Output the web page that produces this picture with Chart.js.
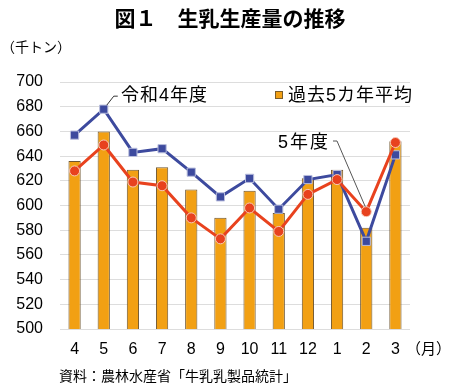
<!DOCTYPE html>
<html>
<head>
<meta charset="utf-8">
<script src="https://cdn.jsdelivr.net/npm/chart.js@4.4.1/dist/chart.umd.min.js"></script>
<style>
  html, body { margin: 0; padding: 0; background: #fff; }
</style>
</head>
<body>
<canvas id="myChart" width="450" height="392"></canvas>
<script>
// months (fiscal year order)
const months = ['4', '5', '6', '7', '8', '9', '10', '11', '12', '1', '2', '3'];
// past 5-year average (thousand tonnes)
const avgPast5 = [636, 660, 629, 631, 613, 590, 612, 594, 622, 629, 582, 652];
// Reiwa 4 fiscal year
const reiwa4 = [657, 678, 643, 646, 627, 607, 622, 597, 621, 625, 571, 641];
// fiscal year 5
const reiwa5 = [628, 649, 619, 616, 590, 573, 598, 579, 609, 621, 595, 651];

const FONT = "'Liberation Sans', 'Noto Sans CJK JP', sans-serif";
const ORANGE = '#F2A013';
const BLUE = '#3D4A9E';
const RED = '#E8421E';

// draws title, unit labels, legend and the two callouts
const textPlugin = {
  id: 'texts',
  afterDraw(chart) {
    const ctx = chart.ctx;
    const xs = chart.scales.x;
    const ys = chart.scales.y;
    ctx.save();
    ctx.fillStyle = '#000';
    ctx.textBaseline = 'middle';

    ctx.textAlign = 'center';
    ctx.font = '600 21px ' + FONT;
    ctx.fillText('図１　生乳生産量の推移', 230, 20);

    ctx.textAlign = 'left';
    ctx.font = '14px ' + FONT;
    ctx.fillText('（千トン）', 1, 48);
    ctx.font = '15px ' + FONT;
    ctx.fillText('（月）', 406, 350);
    ctx.font = '14px ' + FONT;
    ctx.fillText('資料：農林水産省「牛乳乳製品統計」', 59, 377);

    // legend for the bars
    ctx.fillStyle = ORANGE;
    ctx.fillRect(275, 91, 8, 8);
    ctx.strokeStyle = '#7A5C2A';
    ctx.lineWidth = 1;
    ctx.strokeRect(275.5, 91.5, 7, 7);
    ctx.fillStyle = '#000';
    ctx.font = '18px ' + FONT;
    ctx.letterSpacing = '1px';
    ctx.fillText('過去5カ年平均', 288, 96);

    // callout for reiwa 4
    ctx.fillText('令和4年度', 121, 96);
    const p4x = xs.getPixelForValue(1);
    const p4y = ys.getPixelForValue(reiwa4[1]);
    ctx.strokeStyle = '#333';
    ctx.lineWidth = 1;
    ctx.beginPath();
    ctx.moveTo(p4x + 3, p4y - 4);
    ctx.lineTo(p4x + 10, p4y - 13);
    ctx.lineTo(p4x + 14, p4y - 13);
    ctx.stroke();

    // callout for year 5
    ctx.letterSpacing = '2px';
    ctx.fillText('5年度', 278, 143);
    const p5x = xs.getPixelForValue(10);
    const p5y = ys.getPixelForValue(reiwa5[10]);
    ctx.strokeStyle = '#555';
    ctx.beginPath();
    ctx.moveTo(333, 141);
    ctx.lineTo(337, 141);
    ctx.lineTo(p5x - 1, p5y - 5);
    ctx.stroke();

    ctx.restore();
  }
};

const ctx = document.getElementById('myChart').getContext('2d');
new Chart(ctx, {
  type: 'bar',
  data: {
    labels: months,
    datasets: [
      {
        type: 'line',
        label: '5年度',
        data: reiwa5,
        borderColor: RED,
        borderWidth: 3,
        pointStyle: 'circle',
        pointRadius: 5,
        pointBackgroundColor: RED,
        pointBorderColor: '#F6C9B8',
        pointBorderWidth: 1,
        tension: 0,
        order: 0
      },
      {
        type: 'line',
        label: '令和4年度',
        data: reiwa4,
        borderColor: BLUE,
        borderWidth: 3,
        pointStyle: 'rect',
        pointRadius: 5.8,
        pointBackgroundColor: BLUE,
        pointBorderColor: '#B9BEDD',
        pointBorderWidth: 1,
        tension: 0,
        order: 1
      },
      {
        label: '過去5カ年平均',
        data: avgPast5,
        backgroundColor: ORANGE,
        borderColor: '#6E5630',
        borderWidth: 1,
        barPercentage: 0.42,
        categoryPercentage: 1,
        order: 2
      }
    ]
  },
  options: {
    responsive: false,
    animation: false,
    layout: { padding: { left: 0, right: 40, top: 82, bottom: 28 } },
    plugins: {
      legend: { display: false },
      tooltip: { enabled: false },
      title: { display: false }
    },
    scales: {
      x: {
        grid: { display: false, drawTicks: false },
        border: { display: false },
        ticks: { color: '#000', font: { family: FONT, size: 16 }, padding: 11 },
        afterFit(scale) { scale.height = 35; }
      },
      y: {
        min: 500,
        max: 700,
        grid: { color: '#DDDDDD', lineWidth: 1, drawTicks: false },
        border: { display: false },
        ticks: { stepSize: 20, color: '#000', font: { family: FONT, size: 16 }, padding: 17 },
        afterFit(scale) { scale.width = 60; }
      }
    }
  },
  plugins: [textPlugin]
});
</script>
</body>
</html>
